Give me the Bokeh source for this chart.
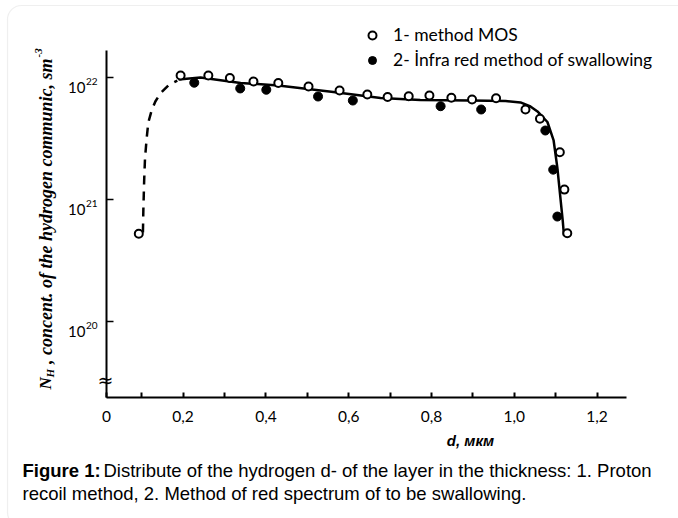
import math
from bokeh.plotting import figure
from bokeh.models import (FixedTicker, Label, Legend, LegendItem, Range1d,
                          CustomJSTickFormatter, BoxAnnotation)
from bokeh.embed import file_html
from bokeh.resources import INLINE

# ---------------- data ----------------
mos_d = [0.093, 0.194, 0.261, 0.313, 0.370, 0.430, 0.503, 0.578, 0.645, 0.694,
         0.745, 0.795, 0.848, 0.898, 0.956, 1.027, 1.062, 1.110, 1.121, 1.128]
mos_n = [5.2e20, 1.04e22, 1.04e22, 9.9e21, 9.27e21, 9.02e21, 8.43e21, 7.82e21, 7.24e21, 6.92e21,
         7.01e21, 7.11e21, 6.81e21, 6.59e21, 6.76e21, 5.46e21, 4.58e21, 2.43e21, 1.20e21, 5.26e20]

ir_d = [0.227, 0.338, 0.401, 0.526, 0.610, 0.822, 0.920, 1.075, 1.094, 1.104]
ir_n = [9.06e21, 8.13e21, 7.93e21, 6.98e21, 6.47e21, 5.81e21, 5.46e21, 3.67e21, 1.75e21, 7.21e20]

fit_d = [0.189, 0.242, 0.339, 0.430, 0.563, 0.677, 0.773, 0.894, 0.979, 1.015,
         1.039, 1.056, 1.080, 1.095, 1.104, 1.112, 1.117, 1.120]
fit_n = [9.64e21, 1.0e22, 9.02e21, 8.59e21, 7.60e21, 6.79e21, 6.53e21, 6.47e21, 6.41e21, 6.24e21,
         5.78e21, 5.26e21, 4.31e21, 3.04e21, 1.82e21, 9.77e20, 6.68e20, 5.04e20]

dash_d = [0.103, 0.104, 0.106, 0.108, 0.112, 0.116, 0.124, 0.133, 0.145, 0.164, 0.186]
dash_n = [5.33e20, 8.09e20, 1.43e21, 2.16e21, 3.16e21, 4.27e21, 5.36e21, 6.35e21, 7.40e21, 8.59e21, 9.44e21]

x_ticks = [0.015, 0.2, 0.4, 0.6, 0.8, 1.0, 1.2]
x_tick_labels = ["0", "0,2", "0,4", "0,6", "0,8", "1,0", "1,2"]
x_minor_ticks = [0.1, 0.3, 0.5, 0.7, 0.9, 1.1]
y_ticks = [1e20, 1e21, 1e22]
y_tick_base = "10"
y_tick_exp = ["20", "21", "22"]

legend_labels = ["1- method MOS", "2- İnfra red method of swallowing"]
x_title = "d, мкм"
caption_bold = "Figure 1:"
caption_line1 = "Distribute of the hydrogen d- of the layer in the thickness: 1. Proton"
caption_line2 = "recoil method, 2. Method of red spectrum of to be swallowing."

# ---------------- geometry ----------------
W, H = 678, 518
AX_L, AX_R, AX_T, AX_B = 106, 626, 50, 397      # axis box in pixels
PX_PER_X = 414.0                                  # pixels per unit of d
PX_PER_DEC = 121.75                               # pixels per decade
X_AT_AXIS = 0.015


def X(px):
    return X_AT_AXIS + (px - AX_L) / PX_PER_X


def Y(py):
    return 10 ** (22 - (py - 77) / PX_PER_DEC)


X0, X1 = X(AX_L), X(AX_R)
Y0, Y1 = Y(AX_B), Y(AX_T)

p = figure(width=W, height=H, output_backend="svg", toolbar_location=None,
           x_range=Range1d(X(0), X(W)), y_range=Range1d(Y(H), Y(0)), y_axis_type="log",
           min_border=0)
p.min_border_left = p.min_border_right = p.min_border_top = p.min_border_bottom = 0
p.outline_line_color = None
p.grid.visible = False
p.background_fill_color = "white"
p.border_fill_color = "white"

# outer rounded frame of the figure panel
p.add_layout(BoxAnnotation(left=X(7), right=X(W + 20), top=Y(5), bottom=Y(H + 8),
                           fill_alpha=0, line_color="#c9c9c9", line_width=1.2,
                           border_radius=14, level="underlay"))

# x axis
xa = p.xaxis[0]
xa.fixed_location = Y0
xa.bounds = (X0, X1)
xa.ticker = FixedTicker(ticks=x_ticks, minor_ticks=x_minor_ticks)
xa.major_label_overrides = {t: l for t, l in zip(x_ticks, x_tick_labels)}
xa.axis_line_width = 2
xa.axis_line_color = "black"
xa.major_tick_in = 5
xa.major_tick_out = 0
xa.minor_tick_in = 5
xa.minor_tick_out = 0
xa.major_tick_line_width = 2
xa.minor_tick_line_width = 2
xa.minor_tick_line_color = "black"
xa.major_label_text_font = "Lato"
xa.major_label_text_font_size = "15.5px"
xa.major_label_text_color = "black"
xa.major_label_standoff = 13

# y axis
ya = p.yaxis[0]
ya.fixed_location = X0
ya.bounds = (Y0, Y1)
ya.ticker = FixedTicker(ticks=y_ticks, minor_ticks=[])
ya.formatter = CustomJSTickFormatter(code="return ''")
ya.axis_line_width = 2
ya.axis_line_color = "black"
ya.major_tick_in = 7
ya.major_tick_out = 0
ya.major_tick_line_width = 1.5
ya.minor_tick_in = 0
ya.minor_tick_out = 0

for t, e in zip(y_ticks, y_tick_exp):
    p.add_layout(Label(x=X0, y=t, x_offset=-21, y_offset=-10, text=y_tick_base,
                       text_align="right", text_baseline="alphabetic",
                       text_font="Lato", text_font_size="15px", text_color="black"))
    p.add_layout(Label(x=X0, y=t, x_offset=-20.5, y_offset=-4, text=e,
                       text_align="left", text_baseline="alphabetic",
                       text_font="Lato", text_font_size="10px", text_color="black"))

# axis break symbol
p.add_layout(Label(x=X(105), y=Y(379), text="≈",
                   text_align="center", text_baseline="middle",
                   text_font="DejaVu Sans", text_font_size="19px", text_color="black"))

# curves and points
p.line(dash_d, dash_n, line_color="black", line_width=2.5, line_dash="9 7")
p.line(fit_d, fit_n, line_color="black", line_width=2.5)
r_fill = p.scatter(ir_d, ir_n, marker="circle", size=9, fill_color="black", line_color="black")
r_open = p.scatter(mos_d, mos_n, marker="circle", size=8, fill_color="white",
                   line_color="black", line_width=2)

legend = Legend(items=[LegendItem(label=legend_labels[0], renderers=[r_open]),
                       LegendItem(label=legend_labels[1], renderers=[r_fill])],
                location=(361, H - 70), orientation="vertical",
                border_line_color=None, background_fill_alpha=0,
                padding=0, margin=0, spacing=4,
                glyph_width=22, glyph_height=20, label_height=20, label_standoff=10,
                label_text_font="Lato", label_text_font_size="17.5px",
                label_text_color="black", label_text_baseline="middle")
p.add_layout(legend)

# x axis title
p.add_layout(Label(x=X(470), y=Y(440), text=x_title,
                   text_align="center", text_baseline="middle",
                   text_font="Liberation Sans", text_font_style="bold italic",
                   text_font_size="15px", text_color="black"))

# y axis title (rotated pieces)
yt_font = "Liberation Serif"
rot = math.pi / 2
p.add_layout(Label(x=X(45), y=Y(389), text="N", angle=rot,
                   text_align="left", text_baseline="alphabetic", text_font=yt_font,
                   text_font_style="bold italic", text_font_size="17px", text_color="black"))
p.add_layout(Label(x=X(49), y=Y(377), text="H", angle=rot,
                   text_align="left", text_baseline="alphabetic", text_font=yt_font,
                   text_font_style="bold italic", text_font_size="11px", text_color="black"))
p.add_layout(Label(x=X(45), y=Y(58), text=", concent. of the hydrogen communic, sm", angle=rot,
                   text_align="right", text_baseline="alphabetic", text_font=yt_font,
                   text_font_style="bold italic", text_font_size="18px", text_color="black"))
p.add_layout(Label(x=X(38), y=Y(57), text="-3", angle=rot,
                   text_align="left", text_baseline="alphabetic", text_font=yt_font,
                   text_font_style="bold italic", text_font_size="11px", text_color="black"))

# caption
cap_size = "18.5px"
p.add_layout(Label(x=X(22), y=Y(470), text=caption_bold,
                   text_align="left", text_baseline="middle", text_font="Liberation Sans",
                   text_font_style="bold", text_font_size=cap_size, text_color="black"))
p.add_layout(Label(x=X(103), y=Y(470), text=caption_line1,
                   text_align="left", text_baseline="middle", text_font="Liberation Sans",
                   text_font_size=cap_size, text_color="black"))
p.add_layout(Label(x=X(22), y=Y(493), text=caption_line2,
                   text_align="left", text_baseline="middle", text_font="Liberation Sans",
                   text_font_size=cap_size, text_color="black"))

open("out.html", "w").write(file_html(p, INLINE))
